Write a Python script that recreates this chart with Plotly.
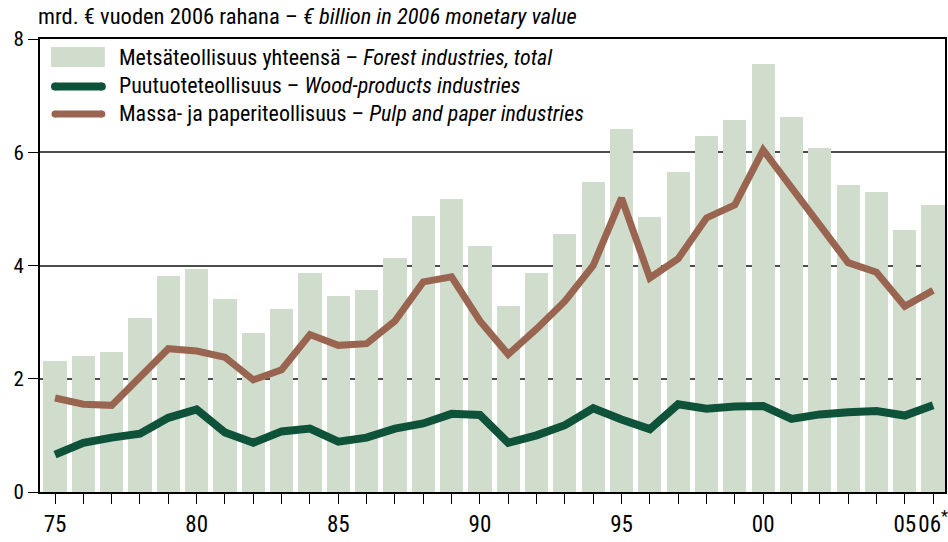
import plotly.graph_objects as go

# Forest industry value added, € billion at 2006 prices
years = list(range(1975, 2007))
total = [2.31, 2.40, 2.47, 3.07, 3.81, 3.93, 3.40, 2.80, 3.24, 3.87,
         3.47, 3.56, 4.14, 4.88, 5.18, 4.35, 3.28, 3.86, 4.56, 5.48,
         6.41, 4.86, 5.66, 6.29, 6.57, 7.55, 6.63, 6.08, 5.43, 5.30,
         4.62, 5.07]
wood = [0.66, 0.87, 0.96, 1.03, 1.31, 1.46, 1.05, 0.87, 1.07, 1.12,
        0.89, 0.96, 1.12, 1.21, 1.38, 1.36, 0.87, 1.00, 1.18, 1.48,
        1.28, 1.11, 1.55, 1.47, 1.51, 1.52, 1.29, 1.37, 1.41, 1.43,
        1.35, 1.53]
pulp = [1.66, 1.55, 1.53, 2.05, 2.53, 2.49, 2.38, 1.98, 2.16, 2.78,
        2.59, 2.62, 3.02, 3.71, 3.80, 3.02, 2.43, 2.88, 3.37, 4.00,
        5.19, 3.78, 4.12, 4.84, 5.07, 6.04, 5.37, 4.75, 4.05, 3.88,
        3.28, 3.56]
label_years = [1975, 1980, 1985, 1990, 1995, 2000, 2005, 2006]
label_texts = ["75", "80", "85", "90", "95", "00", "05", "06<sup>*</sup>"]

series_names = [
    "Metsäteollisuus yhteensä – <i>Forest industries, total</i>",
    "Puutuoteteollisuus – <i>Wood-products industries</i>",
    "Massa- ja paperiteollisuus – <i>Pulp and paper industries</i>",
]
BAR_COLOR = "#d0ddcd"
WOOD_COLOR = "#0f523a"
PULP_COLOR = "#9a6550"

FONT = "Liberation Sans Narrow, Arial Narrow, Roboto Condensed, sans-serif"

W, H = 948, 542
ML, MR, MT, MB = 40, 1, 39, 50
PW, PH = W - ML - MR, H - MT - MB


def px(x):
    return (x - ML) / PW


def py(y):
    return (H - MB - y) / PH


fig = go.Figure()
fig.add_trace(go.Bar(
    x=years, y=total, width=0.82,
    marker=dict(color=BAR_COLOR, line=dict(width=0)),
    name=series_names[0], showlegend=False,
))
fig.add_trace(go.Scatter(
    x=years, y=wood, mode="lines",
    line=dict(color=WOOD_COLOR, width=8),
    name=series_names[1], showlegend=False,
))
fig.add_trace(go.Scatter(
    x=years, y=pulp, mode="lines",
    line=dict(color=PULP_COLOR, width=7),
    name=series_names[2], showlegend=False,
))

# Legend drawn in the upper-left corner of the plot area
shapes = [
    dict(type="rect", xref="paper", yref="paper",
         x0=px(51), x1=px(105), y0=py(47), y1=py(67),
         fillcolor=BAR_COLOR, line=dict(width=0), layer="above"),
    dict(type="line", xref="paper", yref="paper",
         x0=px(55), x1=px(102), y0=py(86.5), y1=py(86.5),
         line=dict(color=WOOD_COLOR, width=8), layer="above"),
    dict(type="line", xref="paper", yref="paper",
         x0=px(55), x1=px(102), y0=py(114), y1=py(114),
         line=dict(color=PULP_COLOR, width=7), layer="above"),
]
# rounded ends for the legend line samples
for cy, col, d in [(86.5, WOOD_COLOR, 8), (114, PULP_COLOR, 7)]:
    for cx in (55, 102):
        shapes.append(dict(
            type="circle", xref="paper", yref="paper",
            x0=px(cx - d / 2), x1=px(cx + d / 2),
            y0=py(cy + d / 2), y1=py(cy - d / 2),
            fillcolor=col, line=dict(width=0), layer="above"))

annotations = []
for name, cy in zip(series_names, [57.5, 86, 113.5]):
    annotations.append(dict(
        text=name, xref="paper", yref="paper",
        x=px(117), y=py(cy), xanchor="left", yanchor="middle",
        showarrow=False, font=dict(family=FONT, size=22, color="black"),
    ))

fig.update_layout(
    width=W, height=H,
    margin=dict(l=ML, r=MR, t=MT, b=MB),
    paper_bgcolor="white", plot_bgcolor="white",
    font=dict(family=FONT, size=22, color="black"),
    showlegend=False,
    shapes=shapes,
    annotations=annotations,
    title=dict(
        text="mrd. € vuoden 2006 rahana – <i>€ billion in 2006 monetary value</i>",
        xref="container", yref="container",
        x=38 / W, y=1 - 16 / H, xanchor="left", yanchor="middle",
        font=dict(family=FONT, size=22.5, color="black"),
    ),
    bargap=0,
)

fig.update_xaxes(
    range=[1974.47, 2006.42],
    tickvals=label_years,
    ticktext=label_texts,
    ticks="outside", ticklen=10, tickwidth=1.2, tickcolor="black",
    minor=dict(ticks="outside", ticklen=10, tickwidth=1.2,
               tickcolor="black", tick0=1975, dtick=1, showgrid=False),
    showline=True, linecolor="black", linewidth=2, mirror=True,
    showgrid=False, zeroline=False,
    tickfont=dict(size=23),
)
fig.update_yaxes(
    range=[0, 8], tickvals=[0, 2, 4, 6, 8],
    ticks="outside", ticklen=10, tickwidth=1.2, tickcolor="black",
    showline=True, linecolor="black", linewidth=2, mirror=True,
    showgrid=True, gridcolor="#4d4d4d", gridwidth=1.5,
    zeroline=False,
    tickfont=dict(size=21),
)

fig.write_html("out.html")
